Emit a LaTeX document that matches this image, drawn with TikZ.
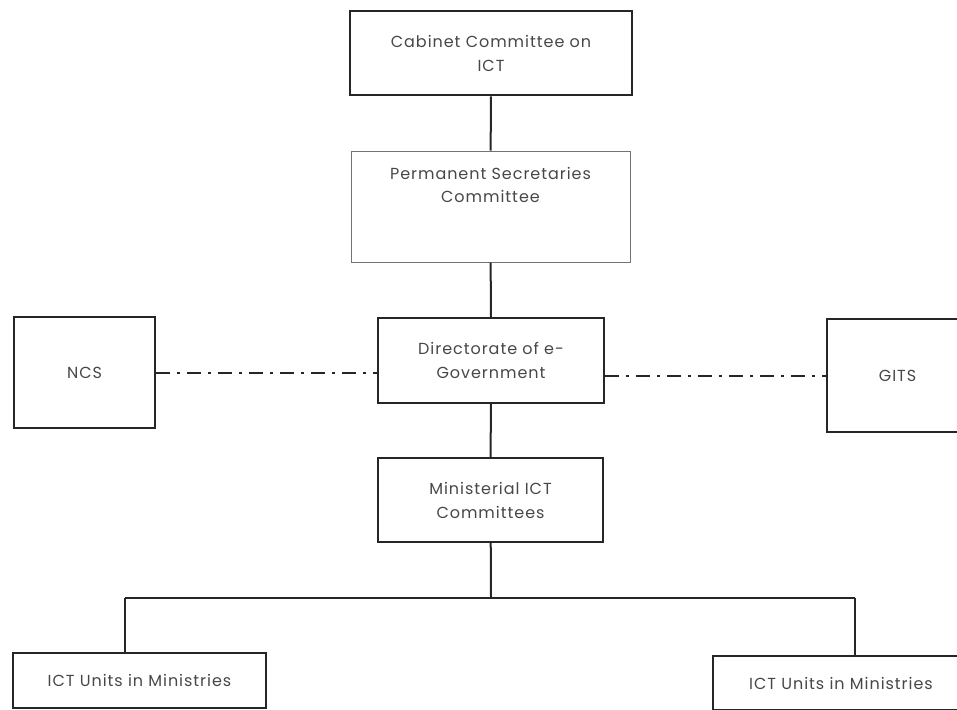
\documentclass[tikz,border=0pt]{standalone}
\usepackage{fontspec}
\setmainfont[LetterSpace=6]{Poppins}
\usetikzlibrary{positioning}
\tikzset{
    orgbox/.style={draw=black!85, line width=1.8pt, align=center, inner sep=0pt,
        text=black!72, font=\fontsize{16}{24}\selectfont},
    thickbox/.style={orgbox, line width=2.8pt},
    lightbox/.style={orgbox, draw=black!55, line width=1pt},
    boxtext/.style={align=center, inner sep=0pt, text=black!72,
        font=\fontsize{16}{23}\selectfont},
    link/.style={draw=black!85, line width=2pt},
    dashlink/.style={link, dash pattern=on 14pt off 7pt on 3pt off 7pt},
}

\begin{document}
\begin{tikzpicture}[x=1pt, y=-1pt]
    \useasboundingbox (0,0) rectangle (957,709);
    \clip (0,0) rectangle (957,709);
    % central column
    \node[thickbox, minimum width=282pt, minimum height=84pt] (cab) at (491,53)
        {Cabinet Committee on\\ICT};
    \node[lightbox, minimum width=279pt, minimum height=111pt] (perm) at (490.5,206.5) {};
    \node[boxtext, below=17pt of perm.north] (permtxt)
        {Permanent Secretaries\\Committee};
    \node[orgbox, minimum width=226pt, minimum height=85pt] (dir) at (491,360.5)
        {Directorate of e-\\Government};
    \node[orgbox, minimum width=225pt, minimum height=84pt] (min) at (490.5,500)
        {Ministerial ICT\\Committees};
    % side bodies
    \node[orgbox, minimum width=141pt, minimum height=111pt] (ncs) at (84.5,372.5) {NCS};
    \node[orgbox, minimum width=141pt, minimum height=113pt] (gits) at (897.5,375.5) {GITS};
    % ministry units
    \node[orgbox, minimum width=253pt, minimum height=55pt] (lunit) at (139.5,680.5)
        {ICT Units in Ministries};
    \node[orgbox, minimum width=256pt, minimum height=54pt] (runit) at (841,683)
        {ICT Units in Ministries};

    \draw[link] (cab) -- (perm);
    \draw[link] (perm) -- (dir);
    \draw[link] (dir) -- (min);
    \draw[dashlink] (ncs.east) -- (ncs.east -| dir.west);
    \draw[dashlink] (gits.west -| dir.east) -- (gits.west);

    \coordinate (split) at (491,598);
    \coordinate (lb) at (125,598);
    \coordinate (rb) at (855,598);
    \draw[link] (min) -- (split);
    \draw[link] (lb) -- (rb);
    \draw[link] (lb) -- (lb |- lunit.north);
    \draw[link] (rb) -- (rb |- runit.north);
\end{tikzpicture}
\end{document}
